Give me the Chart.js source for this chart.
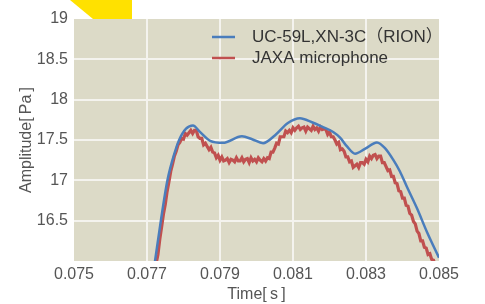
<!DOCTYPE html>
<html>
<head>
<meta charset="utf-8">
<script src="https://cdn.jsdelivr.net/npm/chart.js@4/dist/chart.umd.min.js"></script>
<style>
    html, body { margin: 0; padding: 0; background: #ffffff; }
    #wrap { width: 485px; height: 304px; }
</style>
</head>
<body>
<div id="wrap"><canvas id="ampChart" width="485" height="304"></canvas></div>
<script>
// time axis ticks (s)
const timeTicks = [0.075, 0.077, 0.079, 0.081, 0.083, 0.085]
const ampTicks = [16.5, 17, 17.5, 18, 18.5, 19]

const seriesNames = ['UC-59L,XN-3C（RION）', 'JAXA microphone']

// UC-59L reference mic: time, amplitude
const rionTime = [0.07700, 0.07714, 0.07722, 0.07738, 0.07756, 0.07777, 0.07788, 0.07807, 0.07826, 0.07845,
    0.07873, 0.07908, 0.07960, 0.07988, 0.08018, 0.08051, 0.08086, 0.08119, 0.08152, 0.08182,
    0.08210, 0.08229, 0.08248, 0.08270, 0.08297, 0.08330, 0.08352, 0.08374, 0.08393, 0.08412,
    0.08440, 0.08467, 0.08500]
const rionAmp = [15.35, 15.75, 16.0, 16.5, 17.0, 17.36, 17.5, 17.64, 17.68, 17.6,
    17.49, 17.465, 17.545, 17.51, 17.46, 17.56, 17.71, 17.77, 17.72, 17.66,
    17.6, 17.53, 17.42, 17.33, 17.39, 17.47, 17.4, 17.26, 17.11, 16.92,
    16.65, 16.36, 16.04]

// JAXA mic (noisy), sampled every 0.05 ms from 0.077 s
const jaxaTime = []
for (let i = 0; i <= 160; i++) jaxaTime.push(Math.round((0.077 + i * 0.00005) * 1e6) / 1e6)
const jaxaAmp = [
    15.30, 15.47, 15.60, 15.73, 15.82, 15.97, 16.08, 16.27, 16.42, 16.58,
    16.70, 16.86, 16.98, 17.11, 17.20, 17.30, 17.36, 17.44, 17.47, 17.52,
    17.51, 17.58, 17.56, 17.59, 17.62, 17.58, 17.62, 17.62, 17.54, 17.52,
    17.52, 17.44, 17.46, 17.42, 17.38, 17.41, 17.35, 17.34, 17.28, 17.31,
    17.25, 17.29, 17.24, 17.25, 17.27, 17.22, 17.26, 17.25, 17.23, 17.28,
    17.24, 17.24, 17.28, 17.23, 17.26, 17.27, 17.22, 17.28, 17.24, 17.26,
    17.23, 17.28, 17.25, 17.23, 17.27, 17.24, 17.28, 17.27, 17.35, 17.35,
    17.40, 17.46, 17.45, 17.54, 17.54, 17.54, 17.61, 17.59, 17.62, 17.59,
    17.65, 17.62, 17.65, 17.67, 17.63, 17.65, 17.66, 17.61, 17.66, 17.64,
    17.62, 17.67, 17.63, 17.65, 17.61, 17.66, 17.63, 17.64, 17.63, 17.57,
    17.60, 17.54, 17.54, 17.50, 17.45, 17.47, 17.38, 17.39, 17.36, 17.29,
    17.29, 17.23, 17.24, 17.16, 17.18, 17.20, 17.16, 17.22, 17.22, 17.20,
    17.26, 17.23, 17.30, 17.27, 17.31, 17.32, 17.27, 17.30, 17.30, 17.22,
    17.22, 17.17, 17.12, 17.13, 17.05, 17.05, 16.97, 16.96, 16.87, 16.86,
    16.78, 16.78, 16.69, 16.68, 16.59, 16.57, 16.49, 16.46, 16.37, 16.34,
    16.25, 16.25, 16.17, 16.16, 16.08, 16.09, 16.02, 16.01, 15.94, 15.93,
    15.87]

const blue = '#4a7dbc'
const red = '#c0504f'
const textColor = '#555555'
const fontFamily = "'Liberation Sans', Arial, 'Noto Sans CJK JP', sans-serif"

function toPoints(xs, ys) {
    return xs.map((x, i) => ({ x: x, y: ys[i] }))
}

const backdropPlugin = {
    id: 'backdrop',
    beforeDraw(chart) {
        const { ctx, chartArea: { left, top, right, bottom } } = chart
        ctx.save()
        // yellow corner shape behind the plot
        ctx.fillStyle = '#ffe100'
        ctx.beginPath()
        ctx.moveTo(left - 4, 0)
        ctx.lineTo(left + 58, 0)
        ctx.lineTo(left + 58, top)
        ctx.lineTo(left + 19, top)
        ctx.closePath()
        ctx.fill()
        ctx.fillStyle = '#dcdac7'
        ctx.fillRect(left, top, right - left, bottom - top)
        ctx.restore()
    }
}

const legendPlugin = {
    id: 'insideLegend',
    afterDatasetsDraw(chart) {
        const { ctx, chartArea: { left, top } } = chart
        const colors = [blue, red]
        ctx.save()
        ctx.font = '17px ' + fontFamily
        ctx.textBaseline = 'middle'
        seriesNames.forEach((name, i) => {
            const y = top + 18 + i * 21
            ctx.strokeStyle = colors[i]
            ctx.lineWidth = 2.5
            ctx.beginPath()
            ctx.moveTo(left + 138, y)
            ctx.lineTo(left + 161, y)
            ctx.stroke()
            ctx.fillStyle = '#333333'
            ctx.fillText(name, left + 178, y)
        })
        ctx.restore()
    }
}

const edgeGrid = (ctx) => {
    const ticks = ctx.scale.ticks
    if (ctx.index === 0 || ctx.index === ticks.length - 1) return 'rgba(0,0,0,0)'
    return '#f4f3ee'
}

const chartConfig = {
    type: 'line',
    data: {
        datasets: [
            {
                label: seriesNames[0],
                data: toPoints(rionTime, rionAmp),
                borderColor: blue,
                borderWidth: 2.5,
                pointRadius: 0,
                cubicInterpolationMode: 'monotone',
                order: 1,
            },
            {
                label: seriesNames[1],
                data: toPoints(jaxaTime, jaxaAmp),
                borderColor: red,
                borderWidth: 3.2,
                pointRadius: 0,
                tension: 0,
                order: 2,
            },
        ]
    },
    options: {
        responsive: false,
        animation: false,
        layout: {
            padding: { top: 19, right: 46, left: 0, bottom: 0 }
        },
        scales: {
            x: {
                type: 'linear',
                min: 0.075,
                max: 0.085,
                afterBuildTicks: (scale) => { scale.ticks = timeTicks.map(v => ({ value: v })) },
                afterFit: (scale) => { scale.height = 43 },
                border: { display: false },
                grid: { color: edgeGrid, lineWidth: 2, drawTicks: false },
                ticks: {
                    color: textColor,
                    padding: 4,
                    maxRotation: 0,
                    font: { size: 16, family: fontFamily },
                    callback: (v) => v.toFixed(3),
                },
                title: {
                    display: true,
                    text: 'Time[\u2009s\u2009]',
                    color: textColor,
                    padding: { top: 2, bottom: 0 },
                    font: { size: 16, family: fontFamily },
                }
            },
            y: {
                min: 16,
                max: 19,
                afterBuildTicks: (scale) => { scale.ticks = [16].concat(ampTicks).map(v => ({ value: v })) },
                afterFit: (scale) => { scale.width = 74 },
                border: { display: false },
                grid: { color: edgeGrid, lineWidth: 2, drawTicks: false },
                ticks: {
                    color: textColor,
                    padding: 6,
                    font: { size: 16, family: fontFamily },
                    callback: (v) => (v === 16 ? '' : String(v)),
                },
                title: {
                    display: true,
                    text: 'Amplitude[\u2009Pa\u2009]',
                    color: textColor,
                    padding: { top: 17, bottom: 0 },
                    font: { size: 16, family: fontFamily },
                }
            }
        },
        plugins: {
            legend: { display: false },
            tooltip: { enabled: false },
        }
    },
    plugins: [backdropPlugin, legendPlugin],
}

new Chart(document.getElementById('ampChart'), chartConfig)
</script>
</body>
</html>
